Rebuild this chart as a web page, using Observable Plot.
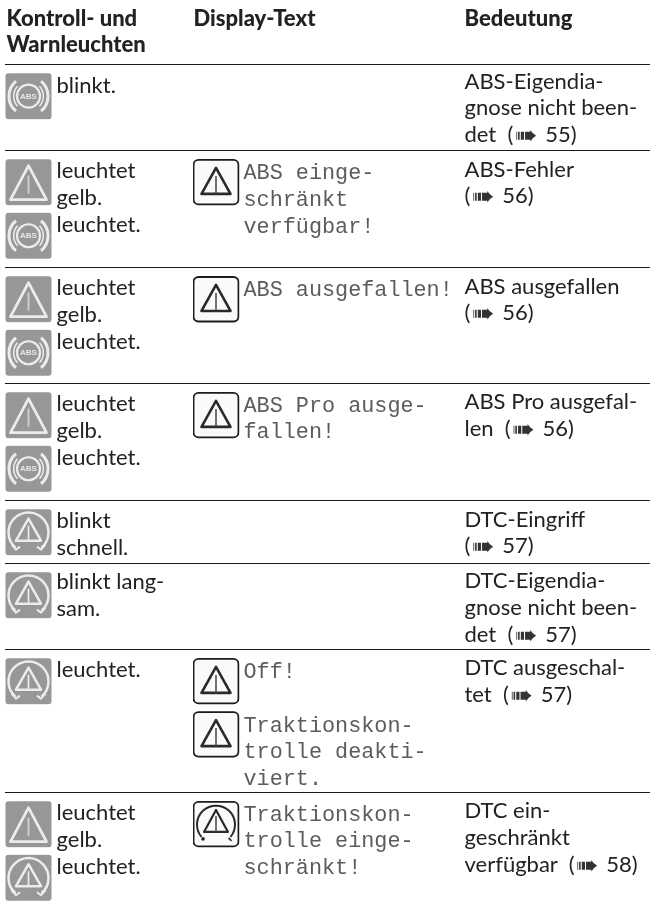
<!DOCTYPE html>
<html lang="de">
<head>
<meta charset="utf-8">
<script src="https://cdn.jsdelivr.net/npm/d3@7"></script>
<script src="https://cdn.jsdelivr.net/npm/@observablehq/plot@0.6"></script>
<style>
html,body{margin:0;padding:0;background:#fff}
svg{display:block;will-change:opacity}
</style>
</head>
<body>
<div id="chart"></div>
<script>
// ---- table content ----
const headers = [["Kontroll- und", "Warnleuchten"], ["Display-Text"], ["Bedeutung"]];
const statusLines = [
  ["blinkt."],
  ["leuchtet", "gelb.", "leuchtet."],
  ["leuchtet", "gelb.", "leuchtet."],
  ["leuchtet", "gelb.", "leuchtet."],
  ["blinkt", "schnell."],
  ["blinkt lang-", "sam."],
  ["leuchtet."],
  ["leuchtet", "gelb.", "leuchtet."]
];
const lampIcons = [
  ["abs"], ["warn", "abs"], ["warn", "abs"], ["warn", "abs"],
  ["dtc"], ["dtc"], ["dtc"], ["warn", "dtc"]
];
const displayLines = [
  [],
  ["ABS einge-", "schränkt", "verfügbar!"],
  ["ABS ausgefallen!"],
  ["ABS Pro ausge-", "fallen!"],
  [],
  [],
  ["Off!", "", "Traktionskon-", "trolle deakti-", "viert."],
  ["Traktionskon-", "trolle einge-", "schränkt!"]
];
const displayIcons = [[], [0], [0], [0], [], [], [0, 2], [0]];
const displayIconKind = ["", "warn", "warn", "warn", "", "", "warn", "dtc"];
const meaningLines = [
  ["ABS-Eigendia-", "gnose nicht been-", "det  (➠ 55)"],
  ["ABS-Fehler", "(➠ 56)"],
  ["ABS ausgefallen", "(➠ 56)"],
  ["ABS Pro ausgefal-", "len  (➠ 56)"],
  ["DTC-Eingriff", "(➠ 57)"],
  ["DTC-Eigendia-", "gnose nicht been-", "det  (➠ 57)"],
  ["DTC ausgeschal-", "tet  (➠ 57)"],
  ["DTC ein-", "geschränkt", "verfügbar  (➠ 58)"]
];
// ---- row geometry in text lines (one line = one unit on the y scale) ----
const ruleLines = [2.406, 5.639, 10.038, 14.398, 18.797, 21.165, 24.398, 29.774];
const statusStart = [1.05, 1.015, 1.0, 1.015, 1.015, 0.94, 1.015, 0.98];
const meaningStart = [0.865, 0.94, 0.94, 0.94, 0.94, 0.9, 0.94, 0.94];
const displayStart = [0, 1.015, 0.98, 0.98, 0, 0, 1.015, 0.98];

// ---- layout ----
const lineHeight = 26.6, W = 650, H = 906;
const colX = {lamp: 28, status: 56, icon: 215.5, display: 243, meaning: 464, head2: 193, head1: 6};
const sans = "Lato, 'DejaVu Sans', sans-serif";
const mono = "'Liberation Mono', monospace";

// ---- icons ----
function svgUri(body) {
  const s = `<svg xmlns="http://www.w3.org/2000/svg" width="47" height="47" viewBox="0 0 47 47"><defs><filter id="b" x="-10%" y="-10%" width="120%" height="120%"><feGaussianBlur stdDeviation="0.5"/></filter></defs><g filter="url(#b)">${body}</g></svg>`;
  return "data:image/svg+xml;charset=utf-8," + encodeURIComponent(s);
}
const G = "#ececec";
const lampBg = `<rect x="0.5" y="0.5" width="46" height="46" rx="3" fill="#979797"/>`;
const lampWarn = svgUri(lampBg + `<path d="M23.5 7 L41.5 41 L5.5 41 Z" fill="none" stroke="${G}" stroke-width="2.8" stroke-linejoin="round"/><path d="M23.5 17 V35" stroke="${G}" stroke-width="1.8" opacity=".7"/>`);
const lampAbs = svgUri(lampBg + `<circle cx="23.5" cy="23.5" r="11.5" fill="none" stroke="${G}" stroke-width="2.2"/>
<path d="M11 8.5 A19.5 19.5 0 0 0 11 38.5" fill="none" stroke="${G}" stroke-width="3"/><path d="M36 8.5 A19.5 19.5 0 0 1 36 38.5" fill="none" stroke="${G}" stroke-width="3"/>
<path d="M12.5 13.5 A15 15 0 0 0 12.5 33.5" fill="none" stroke="${G}" stroke-width="1.5"/><path d="M34.5 13.5 A15 15 0 0 1 34.5 33.5" fill="none" stroke="${G}" stroke-width="1.5"/>`);
const dtcGlyph = (c, w) => `<path d="M10.5 39 A20 20 0 1 1 36.5 39" fill="none" stroke="${c}" stroke-width="${w}"/><path d="M6.5 36 l4.5 5 l4 -3" fill="none" stroke="${c}" stroke-width="${w*0.8}"/><path d="M32 38 l4 3 l4.5 -5" fill="none" stroke="${c}" stroke-width="${w*0.8}"/>
<path d="M23.5 10 L36 32 L11 32 Z" fill="none" stroke="${c}" stroke-width="${w}" stroke-linejoin="round"/><path d="M23.5 17 V31" stroke="${c}" stroke-width="${w*0.7}"/>`;
const lampDtc = svgUri(lampBg + dtcGlyph(G, 2.5));
const boxBg = `<rect x="1" y="1" width="45" height="44.5" rx="5" fill="#fafafa" stroke="#1c1c1c" stroke-width="1.9"/>`;
const dispWarn = svgUri(boxBg + `<path d="M23.5 9 L38 35 L9 35 Z" fill="none" stroke="#2a2a2a" stroke-width="2.6" stroke-linejoin="round"/><path d="M23.5 17 V35" stroke="#444" stroke-width="1.5"/>`);
const dispDtc = svgUri(boxBg + `<path d="M9 36 A19 19 0 1 1 38 36" fill="none" stroke="#2a2a2a" stroke-width="2"/><circle cx="10.5" cy="38" r="1.8" fill="#222"/><path d="M36 37 l3 3" stroke="#2a2a2a" stroke-width="1.6"/><path d="M23.5 9 L35.5 31 L11.5 31 Z" fill="none" stroke="#2a2a2a" stroke-width="2.2" stroke-linejoin="round"/><path d="M23.5 15 V31" stroke="#444" stroke-width="1.5"/>`);
const iconSrc = {warn: lampWarn, abs: lampAbs, dtc: lampDtc};
const dispSrc = {warn: dispWarn, dtc: dispDtc};

// ---- tidy tables built from the arrays ----
const headerRows = headers.flatMap((lines, c) => lines.map((text, i) => ({
  text, x: [colX.head1, colX.head2, colX.meaning][c], y: 0.94 + i * 0.98
})));
const rowLines = (arr, start, step) => arr.flatMap((lines, r) => lines.map((text, i) => ({
  text, y: ruleLines[r] + start[r] + i * step
})));
const statusRows = rowLines(statusLines, statusStart, 1.015);
const meaningRows = rowLines(meaningLines, meaningStart, 1);
const displayRows = rowLines(displayLines, displayStart, 1).filter(d => d.text);
const lampRows = lampIcons.flatMap((icons, r) => icons.map((k, i) => ({
  src: iconSrc[k], kind: k, y: ruleLines[r] + 1.19 + i * 2.015
})));
const dispIconRows = displayIcons.flatMap((lines, r) => lines.map(l => ({
  src: dispSrc[displayIconKind[r]], y: ruleLines[r] + 1.2 + l
})));
const absRows = lampRows.filter(d => d.kind === "abs");

const textOpts = {lineAnchor: "bottom", textAnchor: "start"};
const chart = Plot.plot({
  width: W, height: H,
  marginTop: 0, marginRight: 0, marginBottom: 0, marginLeft: 0,
  style: {background: "transparent"},
  x: {domain: [0, W], range: [0, W], axis: null},
  y: {domain: [0, H / lineHeight], range: [0, H], axis: null},
  marks: [
    Plot.ruleY(ruleLines, {x1: 5, x2: W, stroke: "#1a1a1a", strokeWidth: 1.1}),
    Plot.image(lampRows, {x: colX.lamp, y: "y", src: "src", width: 47, height: 47}),
    Plot.image(dispIconRows, {x: colX.icon, y: "y", src: "src", width: 47, height: 47}),
    Plot.text(absRows, {x: colX.lamp, y: "y", text: () => "ABS", fontSize: 8, fontWeight: 700,
      fontFamily: "'Liberation Sans Narrow','Liberation Sans',sans-serif", fill: "#e6e6e6"}),
    Plot.text(headerRows, {...textOpts, x: "x", y: "y", text: "text", fontSize: 22, fontWeight: 900, fontFamily: sans, fill: "#222"}),
    Plot.text(statusRows, {...textOpts, x: colX.status, y: "y", text: "text", fontSize: 22, dy: 1, fontFamily: sans, fill: "#222"}),
    Plot.text(meaningRows, {...textOpts, x: colX.meaning, y: "y", text: "text", fontSize: 22, dy: 1, fontFamily: sans, fill: "#222"}),
    Plot.text(displayRows, {...textOpts, x: colX.display, y: "y", text: "text", fontSize: 21.8, dy: 2, fontFamily: mono, fill: "#5c5c5c"})
  ]
});
// the arrow glyph inside the page references is set larger than its line
chart.querySelectorAll("text").forEach(t => {
  if (!t.textContent.includes("➠")) return;
  const holder = t.querySelector("tspan") || t;
  const [before, after] = holder.textContent.split("➠");
  holder.textContent = "";
  const span = (txt, attrs) => {
    const s = document.createElementNS("http://www.w3.org/2000/svg", "tspan");
    s.textContent = txt;
    for (const k in attrs) s.setAttribute(k, attrs[k]);
    holder.append(s);
  };
  span(before, {style: "white-space:pre"});
  span("➠", {"font-size": 27, dx: 1.5, dy: 2, fill: "#333", "font-family": "'DejaVu Sans'"});
  span(after, {dx: 2, dy: -2, style: "white-space:pre"});
});
document.getElementById("chart").append(chart);
</script>
</body>
</html>
